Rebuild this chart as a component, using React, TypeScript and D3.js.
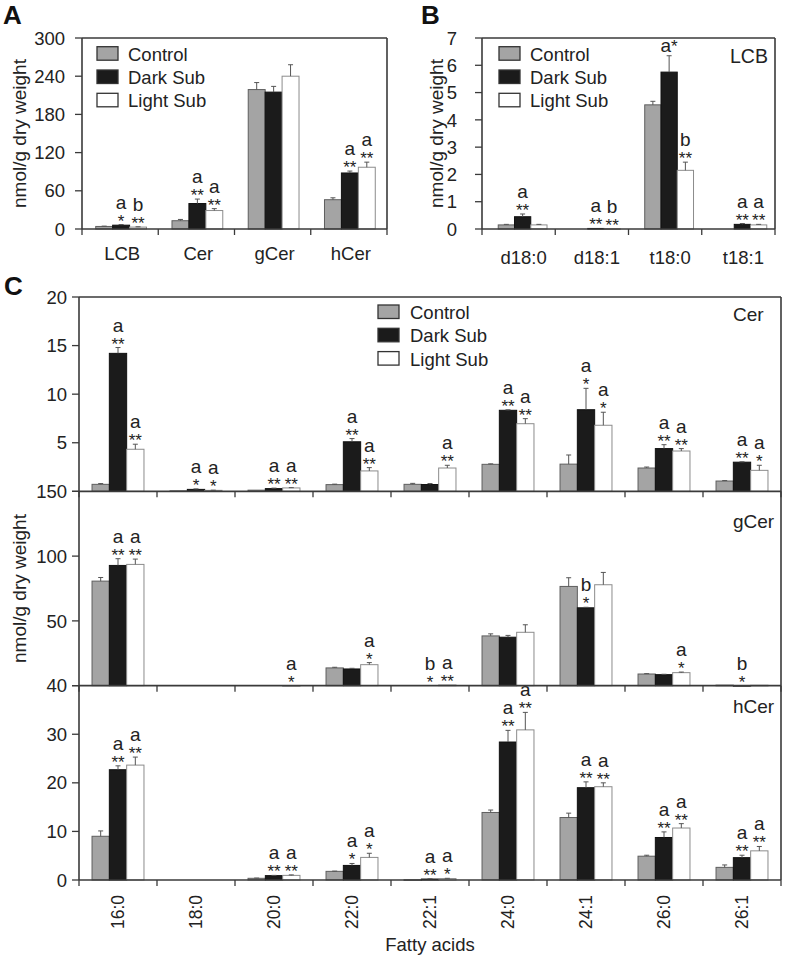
import React from "react";
import * as d3 from "d3";

const FONT = "'Liberation Sans', Arial, Helvetica, sans-serif";
const INK = "#222222";
const AXIS = "#3a3a3a";

const seriesNames = ["Control", "Dark Sub", "Light Sub"];
const seriesFill = ["#a4a4a4", "#1b1b1b", "#ffffff"];
const seriesStroke = ["#5e5e5e", "#111111", "#8c8c8c"];

// ---------- Panel A ----------
const aCategories = ["LCB", "Cer", "gCer", "hCer"];
const aControl = [4, 13, 219, 46];
const aDark = [6, 40, 215, 88];
const aLight = [3, 29, 240, 97];
const aControlErr = [0.5, 2, 11, 3];
const aDarkErr = [1, 7, 9, 3];
const aLightErr = [0.5, 3, 18, 8];
const aDarkLetter = ["a", "a", "", "a"];
const aDarkStars = ["*", "**", "", "**"];
const aLightLetter = ["b", "a", "", "a"];
const aLightStars = ["**", "**", "", "**"];
const aTicks = [0, 60, 120, 180, 240, 300];

// ---------- Panel B ----------
const bCategories = ["d18:0", "d18:1", "t18:0", "t18:1"];
const bControl = [0.15, 0, 4.55, 0];
const bDark = [0.45, 0.02, 5.75, 0.17];
const bLight = [0.15, 0.01, 2.15, 0.15];
const bControlErr = [0.02, 0, 0.13, 0];
const bDarkErr = [0.1, 0, 0.6, 0.03];
const bLightErr = [0.02, 0, 0.3, 0.02];
const bDarkLetter = ["a", "a", "a*", "a"];
const bDarkStars = ["**", "**", "", "**"];
const bLightLetter = ["", "b", "b", "a"];
const bLightStars = ["", "**", "**", "**"];
const bTicks = [0, 1, 2, 3, 4, 5, 6, 7];

// ---------- Panel C ----------
const fattyAcids = ["16:0", "18:0", "20:0", "22:0", "22:1", "24:0", "24:1", "26:0", "26:1"];

const cerControl = [0.72, 0.05, 0.12, 0.69, 0.72, 2.78, 2.8, 2.4, 1.06];
const cerDark = [14.2, 0.2, 0.28, 5.1, 0.7, 8.34, 8.4, 4.4, 3.0];
const cerLight = [4.33, 0.1, 0.35, 2.1, 2.4, 6.96, 6.8, 4.15, 2.16];
const cerControlErr = [0.08, 0, 0, 0.05, 0.1, 0.05, 0.94, 0.1, 0.05];
const cerDarkErr = [0.6, 0.05, 0.05, 0.33, 0.1, 0.05, 2.2, 0.4, 0.04];
const cerLightErr = [0.52, 0.02, 0.03, 0.34, 0.28, 0.52, 1.34, 0.25, 0.52];
const cerDarkLetter = ["a", "a", "a", "a", "", "a", "a", "a", "a"];
const cerDarkStars = ["**", "*", "**", "**", "", "**", "*", "**", "**"];
const cerLightLetter = ["a", "a", "a", "a", "a", "a", "a", "a", "a"];
const cerLightStars = ["**", "*", "**", "**", "**", "**", "*", "**", "*"];
const cerTicks = [0, 5, 10, 15, 20];
const cerTickLabels = ["", "5", "10", "15", "20"];

const gControl = [80.7, 0, 0, 13.7, 0, 38.4, 76.6, 9.0, 0.4];
const gDark = [92.8, 0, 0, 12.9, 0, 37.4, 60.1, 8.5, 0.1];
const gLight = [93.6, 0, 0.1, 16.2, 0.5, 41.2, 77.9, 10.05, 0.3];
const gControlErr = [2.8, 0, 0, 0.5, 0, 1.6, 6.7, 0.3, 0];
const gDarkErr = [5.2, 0, 0, 0.5, 0, 1.4, 0.4, 0.3, 0];
const gLightErr = [4.1, 0, 0, 1.6, 0, 5.8, 9.5, 0.45, 0];
const gDarkLetter = ["a", "", "", "", "b", "", "b", "", "b"];
const gDarkStars = ["**", "", "", "", "*", "", "*", "", "*"];
const gLightLetter = ["a", "", "a", "a", "a", "", "", "a", ""];
const gLightStars = ["**", "", "*", "*", "**", "", "", "*", ""];
const gTicks = [0, 50, 100, 150];
const gTickLabels = ["", "50", "100", "150"];

const hControl = [9.0, 0, 0.35, 1.78, 0.05, 13.9, 12.86, 4.9, 2.6];
const hDark = [22.7, 0, 0.9, 3.0, 0.2, 28.4, 19.0, 8.75, 4.6];
const hLight = [23.65, 0, 0.95, 4.65, 0.3, 30.9, 19.2, 10.7, 6.0];
const hControlErr = [1.1, 0, 0.05, 0.05, 0, 0.5, 0.9, 0.2, 0.5];
const hDarkErr = [0.8, 0, 0.05, 0.4, 0.05, 2.4, 1.2, 1.15, 0.5];
const hLightErr = [1.65, 0, 0.1, 0.85, 0.05, 3.6, 0.8, 0.9, 0.9];
const hDarkLetter = ["a", "", "a", "a", "a", "a", "a", "a", "a"];
const hDarkStars = ["**", "", "**", "*", "**", "**", "**", "**", "**"];
const hLightLetter = ["a", "", "a", "a", "a", "a", "a", "a", "a"];
const hLightStars = ["**", "", "**", "*", "*", "**", "**", "**", "**"];
const hTicks = [0, 10, 20, 30, 40];
const hTickLabels = ["0", "10", "20", "30", "40"];

type BarsProps = {
  cats: string[];
  values: number[][];
  errors: number[][];
  letters: string[][];
  stars: string[][];
  x: d3.ScaleBand<string>;
  y: d3.ScaleLinear<number, number>;
  shift?: number;
};

function Bars({ cats, values, errors, letters, stars, x, y, shift = 0 }: BarsProps) {
  const barW = x.bandwidth() * 0.222;
  const out: React.ReactNode[] = [];
  cats.forEach((c, i) => {
    const center = (x(c) as number) + x.bandwidth() / 2 + shift;
    for (let j = 0; j < 3; j++) {
      const v = values[j][i];
      const e = errors[j][i];
      const left = center - 1.5 * barW + j * barW;
      const cx = left + barW / 2;
      if (v > 0) {
        out.push(
          <rect key={`r${i}-${j}`} x={left} y={y(v)} width={barW} height={Math.max(0.6, y(0) - y(v))}
            fill={seriesFill[j]} stroke={seriesStroke[j]} strokeWidth={1} />
        );
      }
      if (e > 0) {
        out.push(
          <g key={`e${i}-${j}`} stroke="#555" strokeWidth={1}>
            <line x1={cx} x2={cx} y1={y(v)} y2={y(v + e)} />
            <line x1={cx - 2.5} x2={cx + 2.5} y1={y(v + e)} y2={y(v + e)} />
          </g>
        );
      }
      const lt = letters[j][i];
      const st = stars[j][i];
      const top = y(v + e);
      if (st) {
        const sb = top + 2;
        out.push(
          <text key={`s${i}-${j}`} x={cx} y={sb} textAnchor="middle" fontSize={17} fill={INK}>{st}</text>
        );
        if (lt) {
          out.push(
            <text key={`l${i}-${j}`} x={cx} y={sb - 18} textAnchor="middle" fontSize={19} fill={INK}>{lt}</text>
          );
        }
      } else if (lt) {
        const parts = lt.split("*");
        out.push(
          <text key={`l${i}-${j}`} x={cx} y={top - 4} textAnchor="middle" fontSize={19} fill={INK}>
            {parts[0]}
            {lt.includes("*") ? <tspan fontSize={17}>*</tspan> : null}
          </text>
        );
      }
    }
  });
  return <g>{out}</g>;
}

function Legend({ x, y, textX }: { x: number; y: number; textX: number }) {
  return (
    <g>
      {seriesNames.map((n, j) => (
        <g key={n}>
          <rect x={x} y={y + j * 23.3} width={21} height={13.5} fill={seriesFill[j]}
            stroke="#333" strokeWidth={1.3} />
          <text x={textX} y={y + j * 23.3 + 14} fontSize={18.5} fill={INK}>{n}</text>
        </g>
      ))}
    </g>
  );
}

function YAxis({ x, y, ticks, labels, gap }: { x: number; y: d3.ScaleLinear<number, number>; ticks: number[]; labels: string[]; gap: number }) {
  return (
    <g>
      {ticks.map((t, i) => (
        <g key={i}>
          <line x1={x - 7} x2={x} y1={y(t)} y2={y(t)} stroke={AXIS} strokeWidth={1.3} />
          {labels[i] ? (
            <text x={x - gap} y={y(t)} dy="0.36em" textAnchor="end" fontSize={18.5} fill={INK}>{labels[i]}</text>
          ) : null}
        </g>
      ))}
    </g>
  );
}

function XTicks({ x, y0, cats }: { x: d3.ScaleBand<string>; y0: number; cats: string[] }) {
  const bounds = cats.map((c) => x(c) as number).concat([(x(cats[cats.length - 1]) as number) + x.bandwidth()]);
  return (
    <g>
      <line x1={bounds[0]} x2={bounds[bounds.length - 1]} y1={y0} y2={y0} stroke={AXIS} strokeWidth={1.6} />
      {bounds.map((b, i) => (
        <line key={i} x1={b} x2={b} y1={y0} y2={y0 + 6} stroke={AXIS} strokeWidth={1.3} />
      ))}
    </g>
  );
}

export default function App() {
  // Panel A
  const aL = 82, aR = 387, aT = 38, aB = 229;
  const ax = d3.scaleBand<string>().domain(aCategories).range([aL, aR]);
  const ay = d3.scaleLinear().domain([0, 300]).range([aB, aT]);

  // Panel B
  const bL = 482, bR = 775, bT = 38, bB = 229;
  const bx = d3.scaleBand<string>().domain(bCategories).range([bL, bR]);
  const by = d3.scaleLinear().domain([0, 7]).range([bB, bT]);

  // Panel C
  const cL = 79, cR = 781, cT = 297, cB = 880;
  const subH = (cB - cT) / 3;
  const cx = d3.scaleBand<string>().domain(fattyAcids).range([cL, cR]);
  const yCer = d3.scaleLinear().domain([0, 20]).range([cT + subH, cT]);
  const yG = d3.scaleLinear().domain([0, 150]).range([cT + 2 * subH, cT + subH]);
  const yH = d3.scaleLinear().domain([0, 40]).range([cB, cT + 2 * subH]);

  return (
    <svg width={785} height={960} style={{ position: "absolute", left: 0, top: 0, background: "#fff" }}
      fontFamily={FONT}>
      <rect x={0} y={0} width={785} height={960} fill="#fff" />

      {/* ---------- Panel A ---------- */}
      <text x={3} y={24} fontSize={26} fontWeight="bold" fill="#111">A</text>
      <Bars cats={aCategories} values={[aControl, aDark, aLight]} errors={[aControlErr, aDarkErr, aLightErr]}
        letters={[[], aDarkLetter, aLightLetter]} stars={[[], aDarkStars, aLightStars]} x={ax} y={ay} shift={1} />
      <line x1={aL} x2={aR} y1={aT} y2={aT} stroke={AXIS} strokeWidth={1.6} />
      <line x1={aR} x2={aR} y1={aT} y2={aB} stroke={AXIS} strokeWidth={1.6} />
      <line x1={aL} x2={aL} y1={aT} y2={aB} stroke={AXIS} strokeWidth={1.6} />
      <XTicks x={ax} y0={aB} cats={aCategories} />
      <YAxis x={aL} y={ay} ticks={aTicks} labels={aTicks.map(String)} gap={17} />
      {aCategories.map((c) => (
        <text key={c} x={(ax(c) as number) + ax.bandwidth() / 2 + 2} y={260} textAnchor="middle" fontSize={18.5} fill={INK}>{c}</text>
      ))}
      <text transform={`translate(26,${(aT + aB) / 2}) rotate(-90)`} textAnchor="middle" fontSize={19} fill={INK}>nmol/g dry weight</text>
      <Legend x={97} y={46.7} textX={128} />

      {/* ---------- Panel B ---------- */}
      <text x={421} y={24} fontSize={26} fontWeight="bold" fill="#111">B</text>
      <Bars cats={bCategories} values={[bControl, bDark, bLight]} errors={[bControlErr, bDarkErr, bLightErr]}
        letters={[[], bDarkLetter, bLightLetter]} stars={[[], bDarkStars, bLightStars]} x={bx} y={by} shift={4} />
      <line x1={bL} x2={bR} y1={bT} y2={bT} stroke={AXIS} strokeWidth={1.6} />
      <line x1={bR} x2={bR} y1={bT} y2={bB} stroke={AXIS} strokeWidth={1.6} />
      <line x1={bL} x2={bL} y1={bT} y2={bB} stroke={AXIS} strokeWidth={1.6} />
      <XTicks x={bx} y0={bB} cats={bCategories} />
      <YAxis x={bL} y={by} ticks={bTicks} labels={bTicks.map(String)} gap={25} />
      {bCategories.map((c) => (
        <text key={c} x={(bx(c) as number) + bx.bandwidth() / 2 + 5} y={264} textAnchor="middle" fontSize={18.5} fill={INK}>{c}</text>
      ))}
      <text transform={`translate(443,${(bT + bB) / 2}) rotate(-90)`} textAnchor="middle" fontSize={19} fill={INK}>nmol/g dry weight</text>
      <text x={730} y={63} fontSize={19.5} fill={INK}>LCB</text>
      <Legend x={499} y={46.7} textX={530} />

      {/* ---------- Panel C ---------- */}
      <text x={4} y={295} fontSize={26} fontWeight="bold" fill="#111">C</text>
      <Bars cats={fattyAcids} values={[cerControl, cerDark, cerLight]} errors={[cerControlErr, cerDarkErr, cerLightErr]}
        letters={[[], cerDarkLetter, cerLightLetter]} stars={[[], cerDarkStars, cerLightStars]} x={cx} y={yCer} />
      <Bars cats={fattyAcids} values={[gControl, gDark, gLight]} errors={[gControlErr, gDarkErr, gLightErr]}
        letters={[[], gDarkLetter, gLightLetter]} stars={[[], gDarkStars, gLightStars]} x={cx} y={yG} />
      <Bars cats={fattyAcids} values={[hControl, hDark, hLight]} errors={[hControlErr, hDarkErr, hLightErr]}
        letters={[[], hDarkLetter, hLightLetter]} stars={[[], hDarkStars, hLightStars]} x={cx} y={yH} />
      <line x1={cL} x2={cR} y1={cT} y2={cT} stroke={AXIS} strokeWidth={1.6} />
      <line x1={cR} x2={cR} y1={cT} y2={cB} stroke={AXIS} strokeWidth={1.6} />
      <line x1={cL} x2={cL} y1={cT} y2={cB} stroke={AXIS} strokeWidth={1.6} />
      <XTicks x={cx} y0={cT + subH} cats={fattyAcids} />
      <XTicks x={cx} y0={cT + 2 * subH} cats={fattyAcids} />
      <XTicks x={cx} y0={cB} cats={fattyAcids} />
      <YAxis x={cL} y={yCer} ticks={cerTicks} labels={cerTickLabels} gap={12} />
      <YAxis x={cL} y={yG} ticks={gTicks} labels={gTickLabels} gap={12} />
      <YAxis x={cL} y={yH} ticks={hTicks} labels={hTickLabels} gap={12} />
      {fattyAcids.map((c) => (
        <text key={c} transform={`translate(${(cx(c) as number) + cx.bandwidth() / 2},895) rotate(-90)`}
          textAnchor="end" dy="0.36em" fontSize={17.5} fill={INK}>{c}</text>
      ))}
      <text x={430} y={951} textAnchor="middle" fontSize={18.5} fill={INK}>Fatty acids</text>
      <text transform={`translate(26,${(cT + cB) / 2}) rotate(-90)`} textAnchor="middle" fontSize={19} fill={INK}>nmol/g dry weight</text>
      <text x={733} y={321} fontSize={19} fill={INK}>Cer</text>
      <text x={733} y={528} fontSize={19} fill={INK}>gCer</text>
      <text x={733} y={713} fontSize={19} fill={INK}>hCer</text>
      <Legend x={378} y={305} textX={410} />
    </svg>
  );
}
